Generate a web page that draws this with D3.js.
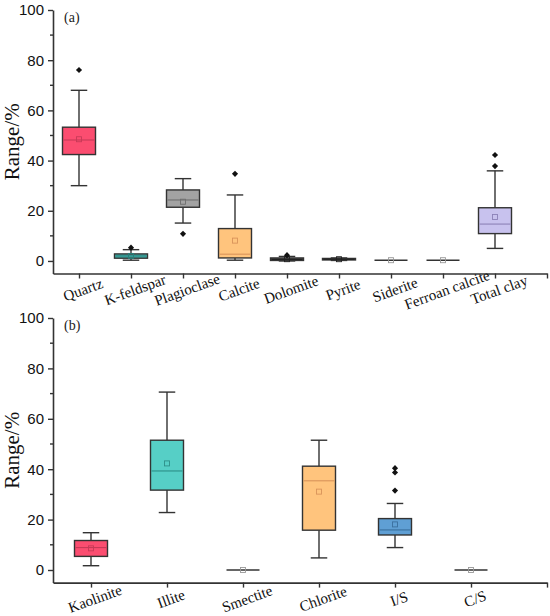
<!DOCTYPE html>
<html>
<head>
<meta charset="utf-8">
<script src="https://cdn.jsdelivr.net/npm/d3@7"></script>
<style>
  body { margin: 0; background: #fff; }
  svg { display: block; font-family: "Liberation Serif", "Times New Roman", serif; }
</style>
</head>
<body>
<svg id="chart"></svg>
<script>
// panel (a) - whole rock minerals
let catsA = ["Quartz", "K-feldspar", "Plagioclase", "Calcite", "Dolomite", "Pyrite", "Siderite", "Ferroan calcite", "Total clay"]
let lowA  = [30.0, 0.3, 15.1, 0.3, 0.0, 0.2, 0.3, 0.3, 5.0]
let q1A   = [42.4, 1.1, 21.4, 1.2, 0.2, 0.4, 0.3, 0.3, 10.9]
let medA  = [48.2, 2.0, 24.3, 2.7, 0.6, 0.7, 0.3, 0.3, 14.7]
let q3A   = [53.3, 2.8, 28.3, 12.9, 1.2, 1.0, 0.3, 0.3, 21.2]
let highA = [68.0, 4.5, 32.8, 26.3, 1.8, 1.2, 0.3, 0.3, 35.9]
let meanA = [48.5, 2.0, 23.6, 8.1, 0.7, 0.7, 0.3, 0.3, 17.5]
let outA  = [[76.1], [5.3], [10.8], [34.7], [2.3], [], [], [], [42.2, 37.8]]
let fillA = ["#fb4d70", "#43b5ae", "#a3a3a3", "#ffc47d", "#4a4a4a", "#4a4a4a", "#888888", "#888888", "#c8c2ee"]
let lineA = ["#c73a57", "#2b7f7a", "#6e6e6e", "#d9935a", "#222222", "#222222", "#888888", "#888888", "#8c82b8"]

// panel (b) - clay minerals
let catsB = ["Kaolinite", "Illite", "Smectite", "Chlorite", "I/S", "C/S"]
let lowB  = [1.7, 22.8, 0, 4.8, 8.9, 0]
let q1B   = [5.4, 31.7, 0, 15.8, 13.9, 0]
let medB  = [8.9, 39.3, 0, 35.4, 15.9, 0]
let q3B   = [11.7, 51.5, 0, 41.2, 20.4, 0]
let highB = [14.8, 70.6, 0, 51.5, 26.4, 0]
let meanB = [8.6, 42.3, 0, 31.1, 18.1, 0]
let outB  = [[], [], [], [], [40.4, 38.7, 31.5], []]
let fillB = ["#fb4d70", "#56cfc6", "#888888", "#ffc47d", "#5f9fd4", "#888888"]
let lineB = ["#c73a57", "#2e8f88", "#888888", "#d9935a", "#3a6f9e", "#888888"]

let yTicks = [0, 20, 40, 60, 80, 100]
let yMinor = [10, 30, 50, 70, 90]

let width = 550
let height = 616
let axisX = 53
let rightX = 547
let boxW = 33

let svg = d3.select("#chart")
   .attr("width", width)
   .attr("height", height)

let drawPanel = (cats, low, q1, med, q3, high, mean, outs, fills, lines, top, bottom, tag) => {
  let n = cats.length
  let xScale = d3.scaleLinear()
                 .domain([0.5, n + 1])
                 .range([axisX, rightX])
  let yScale = d3.scaleLinear()
                 .domain([-5, 100])
                 .range([bottom, top])

  let g = svg.append("g")

  // y axis
  let yAxis = d3.axisLeft(yScale)
                .tickValues(yTicks)
                .tickSize(5)
                .tickPadding(4)
                .tickSizeOuter(0)
  let yg = g.append("g")
     .attr("transform", "translate(" + axisX + ",0)")
     .call(yAxis)
  yg.select(".domain").attr("stroke", "#333").attr("stroke-width", 1.6)
  yg.selectAll(".tick line").attr("stroke", "#333").attr("stroke-width", 1.4)
  yg.selectAll(".tick text").style("font-size", "15px").attr("fill", "#111")
  yg.selectAll(".minor")
     .data(yMinor)
     .enter()
     .append("line")
     .attr("class", "minor")
     .attr("x1", -3).attr("x2", 0)
     .attr("y1", (d) => yScale(d)).attr("y2", (d) => yScale(d))
     .attr("stroke", "#333").attr("stroke-width", 1.4)

  // x axis
  let idx = d3.range(1, n + 2)
  let xAxis = d3.axisBottom(xScale)
                .tickValues(idx)
                .tickSize(5)
                .tickSizeOuter(0)
                .tickFormat("")
  let xg = g.append("g")
     .attr("transform", "translate(0," + bottom + ")")
     .call(xAxis)
  xg.select(".domain").attr("stroke", "#333").attr("stroke-width", 1.6)
  xg.selectAll(".tick line").attr("stroke", "#333").attr("stroke-width", 1.4)

  g.selectAll(".cat")
   .data(cats)
   .enter()
   .append("text")
   .attr("class", "cat")
   .attr("transform", (d, i) => "translate(" + (xScale(i + 1) + 4) + "," + (bottom + 16) + ") rotate(-20)")
   .attr("text-anchor", "middle")
   .attr("dy", "0.35em")
   .style("font-size", "15px")
   .attr("fill", "#111")
   .text((d) => d)

  // y title
  g.append("text")
   .attr("transform", "translate(19," + ((top + bottom) / 2) + ") rotate(-90)")
   .attr("text-anchor", "middle")
   .style("font-size", "21px")
   .attr("fill", "#111")
   .text("Range/%")

  g.append("text")
   .attr("x", 64)
   .attr("y", top + 12)
   .style("font-size", "14px")
   .attr("fill", "#222")
   .text(tag)

  // boxes
  cats.forEach((c, i) => {
    let cx = xScale(i + 1)
    let flat = q1[i] === q3[i]
    // whiskers
    if (!flat) {
      g.append("line")
       .attr("x1", cx).attr("x2", cx)
       .attr("y1", yScale(high[i])).attr("y2", yScale(q3[i]))
       .attr("stroke", "#333").attr("stroke-width", 1.4)
      g.append("line")
       .attr("x1", cx).attr("x2", cx)
       .attr("y1", yScale(low[i])).attr("y2", yScale(q1[i]))
       .attr("stroke", "#333").attr("stroke-width", 1.4)
      ;[high[i], low[i]].forEach((v) => {
        g.append("line")
         .attr("x1", cx - boxW / 4).attr("x2", cx + boxW / 4)
         .attr("y1", yScale(v)).attr("y2", yScale(v))
         .attr("stroke", "#333").attr("stroke-width", 1.4)
      })
      g.append("rect")
       .attr("x", cx - boxW / 2)
       .attr("y", yScale(q3[i]))
       .attr("width", boxW)
       .attr("height", yScale(q1[i]) - yScale(q3[i]))
       .attr("fill", fills[i])
       .attr("stroke", "#333")
       .attr("stroke-width", 1.4)
      g.append("line")
       .attr("x1", cx - boxW / 2 + 1).attr("x2", cx + boxW / 2 - 1)
       .attr("y1", yScale(med[i])).attr("y2", yScale(med[i]))
       .attr("stroke", lines[i]).attr("stroke-width", 1.1)
    } else {
      g.append("line")
       .attr("x1", cx - boxW / 2).attr("x2", cx + boxW / 2)
       .attr("y1", yScale(med[i])).attr("y2", yScale(med[i]))
       .attr("stroke", "#333").attr("stroke-width", 1.4)
    }
    // mean marker
    g.append("rect")
     .attr("x", cx - 2.5)
     .attr("y", yScale(mean[i]) - 2.5)
     .attr("width", 5)
     .attr("height", 5)
     .attr("fill", "none")
     .attr("stroke", flat ? "#999" : lines[i])
     .attr("stroke-width", 0.9)
    // outliers
    outs[i].forEach((v) => {
      g.append("path")
       .attr("d", d3.symbol().type(d3.symbolDiamond2).size(24))
       .attr("transform", "translate(" + cx + "," + yScale(v) + ")")
       .attr("fill", "#111")
    })
  })
}

drawPanel(catsA, lowA, q1A, medA, q3A, highA, meanA, outA, fillA, lineA, 10, 273.5, "(a)")
drawPanel(catsB, lowB, q1B, medB, q3B, highB, meanB, outB, fillB, lineB, 318, 582.6, "(b)")
</script>
</body>
</html>
